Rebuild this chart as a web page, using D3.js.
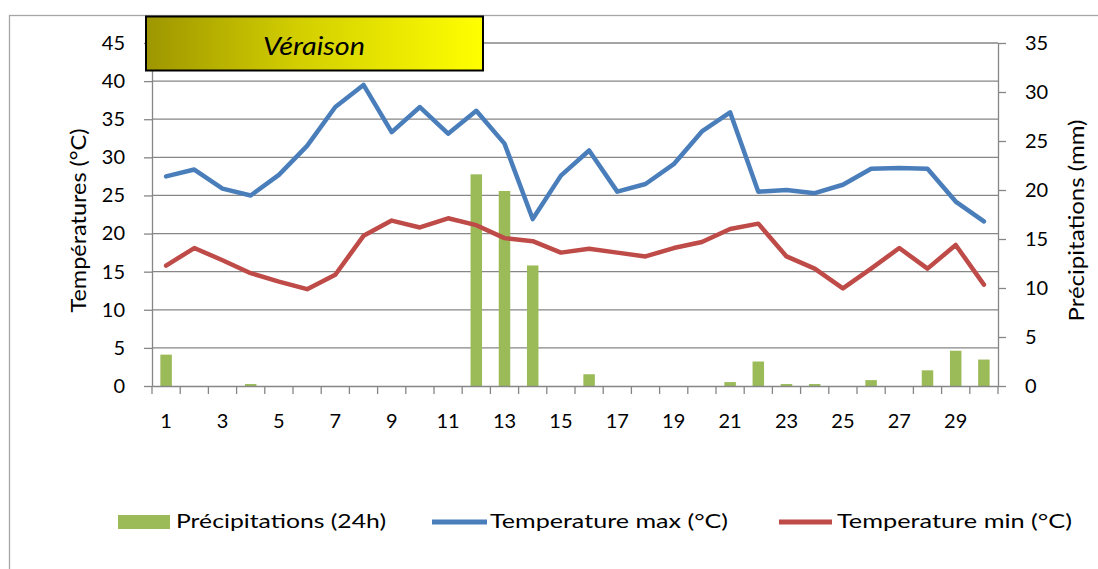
<!DOCTYPE html>
<html><head><meta charset="utf-8">
<script src="https://cdn.jsdelivr.net/npm/d3@7"></script>
<style>
body{margin:0;background:#fff;}
svg{display:block;font-family:Lato, "Open Sans", sans-serif;}
</style></head>
<body><svg id="c" width="1098" height="569"></svg>
<script>
const days = d3.range(1, 31);
const tempMax = [27.5,28.4,25.9,25.0,27.7,31.5,36.6,39.5,33.3,36.6,33.1,36.1,31.8,21.9,27.6,30.9,25.5,26.5,29.1,33.4,35.9,25.5,25.7,25.3,26.4,28.5,28.6,28.5,24.2,21.6];
const tempMin = [15.8,18.1,16.5,14.8,13.7,12.7,14.6,19.7,21.7,20.8,22.0,21.1,19.4,19.0,17.5,18.0,17.5,17.0,18.1,18.9,20.6,21.3,17.0,15.4,12.8,15.4,18.1,15.4,18.5,13.3];
const precip = [3.2,0,0,0.2,0,0,0,0,0,0,0,21.6,19.9,12.3,0,1.2,0,0,0,0,0.4,2.5,0.2,0.2,0,0.6,0,1.6,3.6,2.7];
const leftTicks = d3.range(0, 46, 5);
const rightTicks = d3.range(0, 36, 5);
const xLabels = days.filter(d => d % 2 === 1);
const seriesNames = ["Précipitations (24h)", "Temperature max (°C)", "Temperature min (°C)"];
const colors = {precip:"#9BBB59", max:"#4A7EBB", min:"#BE4B48"};
const grid = "#868686";

const svg = d3.select("#c");
const L = 152, R = 998, T = 43, B = 386;

// outer chart border
svg.append("rect").attr("x",9.5).attr("y",15.5).attr("width",1200).attr("height",700)
  .attr("fill","#fff").attr("stroke","#a6a6a6").attr("stroke-width",1.3);

const x = d3.scaleBand().domain(days).range([L, R]);
const yL = d3.scaleLinear().domain([0,45]).range([B, T]);
const yR = d3.scaleLinear().domain([0,35]).range([B, T]);

// gridlines
svg.append("g").selectAll("line").data(leftTicks.filter(d=>d>0)).join("line")
  .attr("x1",L).attr("x2",R).attr("y1",d=>yL(d)).attr("y2",d=>yL(d))
  .attr("stroke",grid).attr("stroke-width",1.3);

// bars
const bw = 11.5;
svg.append("g").selectAll("rect").data(precip.map((v,i)=>({d:days[i],v}))).join("rect")
  .attr("x",p=>x(p.d)+x.bandwidth()/2-bw/2).attr("width",bw)
  .attr("y",p=>yR(p.v)).attr("height",p=>B-yR(p.v))
  .attr("fill",colors.precip);

// lines
const lineL = d3.line().x((v,i)=>x(days[i])+x.bandwidth()/2).y(v=>yL(v));
svg.append("path").attr("d",lineL(tempMax)).attr("fill","none").attr("stroke",colors.max)
  .attr("stroke-width",4.5).attr("stroke-linejoin","round").attr("stroke-linecap","round");
svg.append("path").attr("d",lineL(tempMin)).attr("fill","none").attr("stroke",colors.min)
  .attr("stroke-width",4.5).attr("stroke-linejoin","round").attr("stroke-linecap","round");

// axes
function styleAxis(g){
  g.select(".domain").attr("stroke",grid).attr("stroke-width",1.3);
  g.selectAll(".tick line").attr("stroke",grid).attr("stroke-width",1.3);
  g.selectAll(".tick text").attr("fill","#000").style("font-size","20px").style("font-family","Lato, sans-serif");
}
const axL = svg.append("g").attr("transform",`translate(${L},0)`)
  .call(d3.axisLeft(yL).tickValues(leftTicks).tickSize(8).tickSizeOuter(0).tickPadding(19));
styleAxis(axL);
const axR = svg.append("g").attr("transform",`translate(${R},0)`)
  .call(d3.axisRight(yR).tickValues(rightTicks).tickSize(8).tickSizeOuter(0).tickPadding(19));
styleAxis(axR);
const axB = svg.append("g").attr("transform",`translate(0,${B})`)
  .call(d3.axisBottom(x).tickValues(xLabels).tickSize(0).tickSizeOuter(0).tickPadding(28));
styleAxis(axB);
// category boundary ticks
svg.append("g").selectAll("line").data(d3.range(0,31)).join("line")
  .attr("x1",i=>L+i*x.step()).attr("x2",i=>L+i*x.step()).attr("y1",B).attr("y2",B+8)
  .attr("stroke",grid).attr("stroke-width",1.3);

// axis titles
svg.append("text").attr("transform",`translate(86,${(T+B)/2+6}) rotate(-90)`)
  .attr("text-anchor","middle").style("font-size","21px")
  .attr("textLength",184).attr("lengthAdjust","spacingAndGlyphs").text("Températures (°C)");
svg.append("text").attr("transform",`translate(1084,${(T+B)/2+6}) rotate(-90)`)
  .attr("text-anchor","middle").style("font-size","21px")
  .attr("textLength",202).attr("lengthAdjust","spacingAndGlyphs").text("Précipitations (mm)");

// banner
const defs = svg.append("defs");
const gr = defs.append("linearGradient").attr("id","vg");
gr.append("stop").attr("offset","0%").attr("stop-color","#9E9600");
gr.append("stop").attr("offset","45%").attr("stop-color","#D2CE00");
gr.append("stop").attr("offset","100%").attr("stop-color","#FFFF00");
svg.append("rect").attr("x",146).attr("y",16.5).attr("width",337).attr("height",54)
  .attr("fill","url(#vg)").attr("stroke","#000").attr("stroke-width",2);
svg.append("text").attr("x",314).attr("y",55).attr("text-anchor","middle")
  .style("font-size","25px").style("font-style","italic")
  .attr("textLength",102).attr("lengthAdjust","spacingAndGlyphs").text("Véraison");

// legend
const lg = svg.append("g").style("font-size","19px");
lg.append("rect").attr("x",118).attr("y",515).attr("width",52).attr("height",14).attr("fill",colors.precip);
lg.append("text").attr("x",176).attr("y",528).attr("textLength",210).attr("lengthAdjust","spacingAndGlyphs").text(seriesNames[0]);
lg.append("line").attr("x1",432).attr("x2",487).attr("y1",522).attr("y2",522).attr("stroke",colors.max).attr("stroke-width",5);
lg.append("text").attr("x",490).attr("y",528).attr("textLength",238).attr("lengthAdjust","spacingAndGlyphs").text(seriesNames[1]);
lg.append("line").attr("x1",779).attr("x2",832).attr("y1",522).attr("y2",522).attr("stroke",colors.min).attr("stroke-width",5);
lg.append("text").attr("x",837).attr("y",528).attr("textLength",235).attr("lengthAdjust","spacingAndGlyphs").text(seriesNames[2]);
</script></body></html>
